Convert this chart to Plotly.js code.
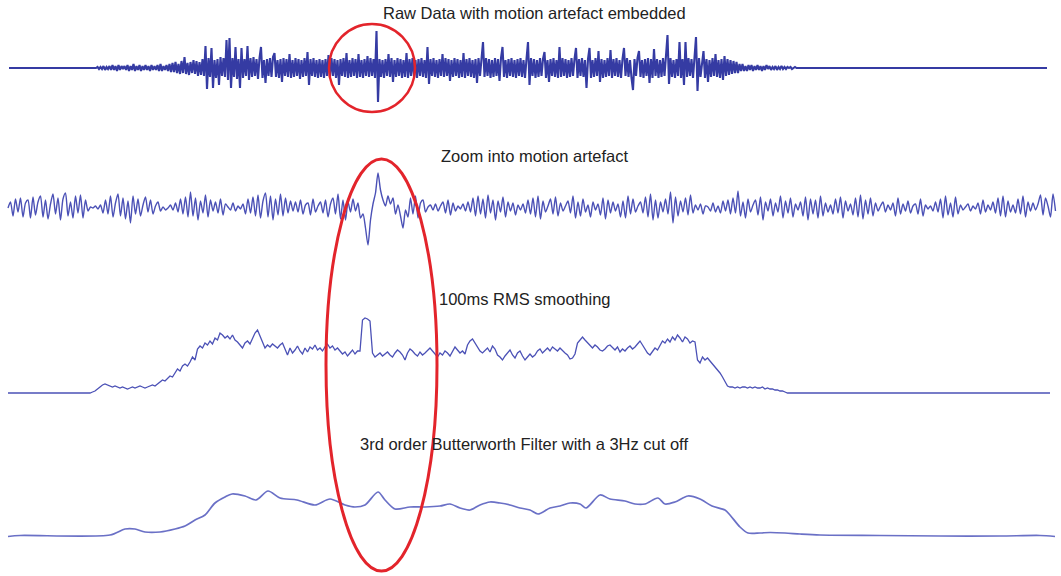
<!DOCTYPE html>
<html>
<head>
<meta charset="utf-8">
<script src="https://cdn.plot.ly/plotly-3.0.1.min.js"></script>
<style>html,body{margin:0;padding:0;background:#fff;}#chart{width:1061px;height:576px;}</style>
</head>
<body>
<div id="chart"></div>
<script>
// ---------- DATA (amplitudes) ----------
// Panel 1: raw EMG, samples every 1.5 units starting at t=96
const rawStart = 96, rawStep = 1.5;
const rawAmp = [
 0,1,-1,1,-1,2,-2,1,-1,2,
 -2,3,-2,2,-3,3,-2,2,-1,2,
 -2,3,-3,2,-2,4,-3,2,-2,3,
 -3,2,-2,3,-2,2,-3,3,-2,2,
 -2,3,-3,4,-3,2,-2,3,-3,4,
 -4,5,-4,6,-5,4,-6,7,-5,11,
 -6,5,-7,6,-5,8,-6,7,-8,6,
 -7,9,-8,22,-21,10,-9,20,-20,8,
 -10,9,-17,11,-8,10,-9,28,-12,30,
 -20,10,-9,21,-11,9,-20,20,-10,9,
 -8,22,-12,10,-9,11,-8,9,-11,10,
 21,-10,8,-15,9,-8,10,-9,11,15,
 -9,8,-10,9,-14,10,-8,9,-9,14,
 -10,8,-9,10,-8,9,-11,8,-9,10,
 -8,16,-17,9,-8,10,-9,8,-10,9,
 -9,8,-10,9,-8,13,-9,10,-8,9,
 -10,8,-17,9,-8,10,-9,15,-10,8,
 -9,10,-8,9,-10,14,-9,8,-10,9,
 -8,12,-9,10,-8,9,-10,37,-34,9,
 -9,8,-10,9,-8,14,-9,10,-14,8,
 -9,10,-8,9,-10,8,-9,15,-10,9,
 -8,10,-9,8,-10,9,-8,10,-9,8,
 -10,21,-16,9,-8,10,-9,8,-10,9,
 -8,14,-9,10,-8,9,-13,8,-9,10,
 -8,9,-10,8,-9,15,-10,9,-8,10,
 -9,8,-10,9,-15,10,-8,9,26,-9,
 10,-8,9,-10,8,-9,10,-8,9,-13,
 10,21,-9,8,-10,9,-8,10,-9,8,
 -10,9,-8,10,-9,8,-10,9,26,-17,
 10,-8,9,-10,8,-9,10,-8,9,16,
 -10,8,-14,9,-8,10,-9,8,-10,21,
 -9,10,-8,9,-10,8,-9,10,-8,9,
 20,-10,9,-8,10,-9,8,-20,9,20,
 -10,8,-9,10,-8,17,-14,9,-10,8,
 -9,10,-8,18,-10,9,-8,10,-9,8,
 -10,9,20,-8,10,-9,8,-10,-22,9,
 -8,10,17,-9,8,-10,9,-8,10,-15,
 9,-10,19,-8,9,-10,8,-9,10,-8,
 9,33,-16,10,-9,8,-10,9,-8,26,
 -10,9,-17,26,-9,10,-8,9,-10,8,
 31,-23,10,-9,8,17,-10,9,-14,8,
 -9,10,-8,14,-9,8,-10,9,-12,12,
 -8,9,-7,8,-6,7,-5,6,-5,4,
 -3,4,-3,2,-3,3,-2,3,-3,2,
 -2,3,-2,2,-3,2,-2,3,-1,2,
 -2,1,-1,2,-2,1,-1,2,-1,1,
 -1,1,0,1,-1,0,1,0,0,0
];
const rawEdgeT = [9, 1047];

// Panel 2: zoom into motion artefact, samples every 2.5 units from t=8
const zoomStart = 8, zoomStep = 2.5;
const zoomAmp = [
 0,6,-8,9,-4,10,-9,5,8,-10,
 11,-7,6,12,-9,8,-11,4,14,-6,
 10,-12,9,15,-8,6,-10,12,-5,13,
 -10,8,-3,1,0,2,-1,3,-5,8,
 -6,12,-9,5,14,-8,10,-11,7,-15,
 12,-6,9,-8,3,11,-4,8,-6,2,
 6,-3,1,-2,0,3,-2,5,-4,9,
 -6,11,-9,16,-8,10,-12,7,-5,13,
 -9,8,-3,6,-5,9,-7,4,1,-2,
 5,-3,2,-1,4,-6,9,-5,11,-8,
 13,-10,7,15,-9,12,-12,9,-7,14,
 -8,10,-5,7,-3,6,-4,8,-6,3,
 5,-7,9,-4,2,6,-5,8,-9,4,
 10,-6,14,-11,8,-12,6,-4,9,-3,
 5,-10,-6,-20,-37,-12,4,15,35,18,
 8,2,12,4,10,-6,3,-8,-20,-2,
 -9,10,-6,12,-10,5,8,-4,1,3,
 -2,4,-3,2,6,-5,8,-7,5,-3,
 2,-1,4,-3,6,-4,10,-8,12,-6,
 9,-10,13,-5,8,-12,7,-4,11,-9,
 6,-3,5,-7,3,-2,4,-5,8,-6,
 10,-9,12,-11,7,-4,2,9,-6,11,
 -8,5,-3,2,7,-5,12,-10,6,-8,
 9,-4,3,-9,6,-2,4,-7,10,-11,
 8,-5,6,-3,4,-9,7,-10,12,-6,
 9,-4,2,6,-5,11,-9,14,-12,8,
 -10,6,-4,9,-6,16,-15,11,-8,7,
 -4,10,-7,13,-5,3,-2,4,-6,2,
 1,-3,5,-4,2,-5,7,-3,8,-6,
 10,-5,17,-8,6,-10,9,-4,3,8,
 -7,11,-12,6,-3,9,-8,5,-4,12,
 -10,7,-5,10,-9,4,-2,6,-8,11,
 -12,9,-6,8,-10,12,-8,5,-4,3,
 -6,9,-5,11,-10,7,-3,4,-7,10,
 -9,13,-11,8,-6,10,-8,5,-3,2,
 6,-4,3,-2,5,-8,10,-6,4,-3,
 7,-5,2,4,-6,9,-8,3,-1,2,
 -3,6,-4,9,-10,12,-7,5,-9,11,
 -6,3,-2,1,4,-3,2,-1,5,-6,
 8,-4,3,-2,6,-5,10,-8,12,-9,
 7,-4,3,-5,9,-6,12,-9,6,-3,
 5,-2,4,13,-7,10,2,-9,14,-3
];

// Panel 3: 100ms RMS smoothing, samples every 2.5 units from t=85
const rmsStart = 85, rmsStep = 2.5;
const rmsAmp = [
 0,0,0,1,2,4,6,8,9,8,
 7,6,7,6,5,6,5,4,5,6,
 5,6,7,6,5,6,7,8,7,9,
 11,13,12,15,17,16,20,24,22,27,
 29,27,31,36,33,44,47,45,50,48,
 52,49,55,53,60,58,55,57,54,58,
 53,51,48,45,50,52,49,55,60,63,
 57,52,45,48,46,49,47,45,48,50,
 44,38,45,40,43,47,42,39,45,41,
 46,44,48,43,45,42,46,49,45,47,
 43,45,42,39,41,37,40,43,39,42,
 42,73,75,74,72,40,36,38,40,37,
 39,41,38,36,40,43,41,38,33,40,
 44,42,39,37,41,38,40,43,45,42,
 39,36,40,38,42,40,37,41,46,43,
 40,42,39,48,52,54,50,47,42,40,
 43,45,41,47,44,38,36,33,37,40,
 43,38,35,40,42,37,33,36,39,36,
 38,42,44,40,43,45,42,46,44,42,
 45,42,40,38,34,35,39,50,53,56,
 53,50,47,45,48,46,43,42,44,47,
 48,45,43,46,41,44,42,45,47,44,
 46,49,52,48,44,40,38,41,45,43,
 48,52,50,54,51,56,53,58,55,51,
 56,54,50,52,51,33,30,36,33,35,
 32,29,26,24,20,16,12,7,6,6,
 5,6,5,6,6,5,6,5,6,5,
 5,6,4,5,4,4,3,3,2,2,
 1,0,0
];
const rmsEdgeT = [8, 1050];

// Panel 4: 3rd order Butterworth, 3 Hz cut-off
const bwT = [8,20,110,125,135,145,160,175,185,195,205,215,225,232,245,256,268,280,297,315,330,345,355,365,378,385,395,410,425,440,450,460,470,480,490,500,510,520,530,538,550,560,570,580,586,600,610,625,635,645,658,665,675,688,700,712,725,730,740,748,760,770,785,800,820,880,940,1000,1040,1055];
const bwAmp = [-0.5,0.5,1,7,7,4,4,7,10,16,21,33,39,42,40,36,45,38,36,31,37,31,29,31,44,36,27,29,29,30,32,28,26,31,34,33,31,28,26,22,28,30,33,32,28,41,37,35,32,32,38,32,34,40,37,30,26,21,9,3,3,3.5,3,2,1,0.5,0,0,0.5,-0.5];

const titles = [
  "Raw Data with motion artefact embedded",
  "Zoom into motion artefact",
  "100ms RMS smoothing",
  "3rd order Butterworth Filter with a 3Hz cut off"
];

// ---------- BUILD ----------
function series(start, step, n){ const t=[]; for(let i=0;i<n;i++) t.push(start+i*step); return t; }

const rawT = [rawEdgeT[0]].concat(series(rawStart, rawStep, rawAmp.length), [rawEdgeT[1]]);
const rawY = [0].concat(rawAmp, [0]);
const zoomT = series(zoomStart, zoomStep, zoomAmp.length);
const rmsT = [rmsEdgeT[0]].concat(series(rmsStart, rmsStep, rmsAmp.length), [rmsEdgeT[1]]);
const rmsY = [0].concat(rmsAmp, [0]);

const W = 1061, H = 576;
const traces = [
  {x: rawT, y: rawY, yaxis: 'y', mode: 'lines', line: {color: '#353ba3', width: 2.1}, hoverinfo: 'skip'},
  {x: zoomT, y: zoomAmp, yaxis: 'y2', mode: 'lines', line: {color: '#4b51b6', width: 1.4, shape: 'spline', smoothing: 0.7}, hoverinfo: 'skip'},
  {x: rmsT, y: rmsY, yaxis: 'y3', mode: 'lines', line: {color: '#4b51b6', width: 1.3}, hoverinfo: 'skip'},
  {x: bwT, y: bwAmp, yaxis: 'y4', mode: 'lines', line: {color: '#6a70c6', width: 1.7, shape: 'spline', smoothing: 0.8}, hoverinfo: 'skip'}
];

function pd(top, bottom){ return [1 - bottom / H, 1 - top / H]; }
const hidden = {visible: false, showgrid: false, zeroline: false, fixedrange: true};

const layout = {
  width: W, height: H,
  margin: {l: 0, r: 0, t: 0, b: 0, pad: 0},
  paper_bgcolor: '#ffffff', plot_bgcolor: '#ffffff',
  showlegend: false,
  xaxis: Object.assign({}, hidden, {range: [0, W], domain: [0, 1]}),
  yaxis:  Object.assign({}, hidden, {domain: pd(20, 120),  range: [-52, 48], anchor: 'x'}),
  yaxis2: Object.assign({}, hidden, {domain: pd(160, 260), range: [-52, 48], anchor: 'x'}),
  yaxis3: Object.assign({}, hidden, {domain: pd(300, 410), range: [-17, 93], anchor: 'x'}),
  yaxis4: Object.assign({}, hidden, {domain: pd(450, 560), range: [-24, 86], anchor: 'x'}),
  annotations: [
    {text: titles[0], x: 534 / W, y: 1 - 13 / H},
    {text: titles[1], x: 534 / W, y: 1 - 156 / H},
    {text: titles[2], x: 525 / W, y: 1 - 299 / H},
    {text: titles[3], x: 524 / W, y: 1 - 444 / H}
  ].map(a => Object.assign(a, {xref: 'paper', yref: 'paper', xanchor: 'center', yanchor: 'middle', showarrow: false,
        font: {family: 'Liberation Sans, Arial, sans-serif', size: 16.5, color: '#222222'}})),
  shapes: [
    {type: 'circle', xref: 'paper', yref: 'paper', x0: 329 / W, x1: 415 / W, y0: 1 - 112 / H, y1: 1 - 24 / H,
     line: {color: '#e3242b', width: 2.5}},
    {type: 'circle', xref: 'paper', yref: 'paper', x0: 326 / W, x1: 437 / W, y0: 1 - 571 / H, y1: 1 - 159 / H,
     line: {color: '#e3242b', width: 3}}
  ]
};

Plotly.newPlot('chart', traces, layout, {staticPlot: true, displayModeBar: false});
</script>
</body>
</html>
